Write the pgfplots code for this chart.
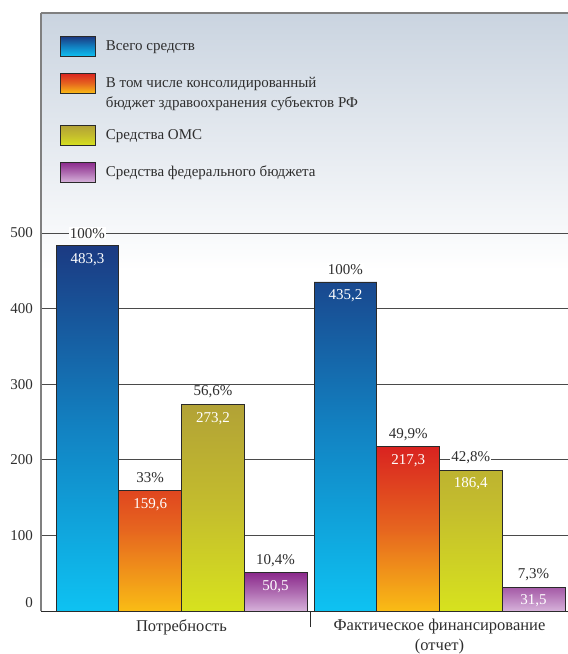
\documentclass[border=0pt]{standalone}
\usepackage{fontspec}
\setmainfont{Liberation Serif}
\usepackage{pgfplots}
\pgfplotsset{compat=1.18}
\usepackage{pgfplotstable}

\definecolor{txt}{HTML}{2E2E2E}
\definecolor{axdark}{HTML}{2B2B2B}
\definecolor{axgrey}{HTML}{808080}
\definecolor{gridc}{HTML}{4A4A4A}
\definecolor{bgtop}{HTML}{CAD4E0}
\definecolor{bardraw}{HTML}{2A2A2A}
\definecolor{blueTop}{HTML}{1B3A82}
\definecolor{blueMid}{HTML}{1282C2}
\definecolor{blueBot}{HTML}{0EC2F2}
\definecolor{redTop}{HTML}{D92320}
\definecolor{redMid}{HTML}{E6651F}
\definecolor{redBot}{HTML}{F9BC15}
\definecolor{oliveTop}{HTML}{B2A236}
\definecolor{oliveMid}{HTML}{C4BD2D}
\definecolor{oliveBot}{HTML}{D7E21E}
\definecolor{purpTop}{HTML}{8B2A8C}
\definecolor{purpMid}{HTML}{AE6AB0}
\definecolor{purpBot}{HTML}{D6B2DA}

% pale blue-grey at the top of the frame fading to white below the legend
\pgfdeclareverticalshading{bgfade}{100bp}{color(0bp)=(white); color(53.5bp)=(white); color(75bp)=(bgtop); color(100bp)=(bgtop)}

\tikzset{
  blueshade/.style={top color=blueTop, bottom color=blueBot, middle color=blueMid},
  redshade/.style={top color=redTop, bottom color=redBot, middle color=redMid},
  oliveshade/.style={top color=oliveTop, bottom color=oliveBot, middle color=oliveMid},
  purpshade/.style={top color=purpTop, bottom color=purpBot, middle color=purpMid},
}

\newcommand\lbl{\fontsize{15bp}{20bp}\selectfont}
\newcommand\catfont{\fontsize{16.5bp}{20bp}\selectfont}

% columns: group (0 = need, 1 = actual), value, share in percent
\pgfplotstableread{
x y pct
0 483.3 100
1 435.2 100
}\totaldata
\pgfplotstableread{
x y pct
0 159.6 33
1 217.3 49.9
}\regiondata
\pgfplotstableread{
x y pct
0 273.2 56.6
1 186.4 42.8
}\omsdata
\pgfplotstableread{
x y pct
0 50.5 10.4
1 31.5 7.3
}\feddata

\pgfplotsset{
  barlabels/.style={
    nodes near coords={\pgfmathprintnumber[fixed,fixed zerofill,precision=1,use comma]{\pgfplotspointmeta}},
    visualization depends on={\thisrow{pct} \as \pct},
    every node near coord/.append style={anchor=center, yshift=-14bp, text=white, font=\lbl, inner sep=0pt,
      label={[yshift=26.5bp, fill=white, text=txt, inner sep=1bp, font=\lbl]center:{\pgfmathprintnumber[use comma]{\pct}\%}}},
  },
}

\begin{document}
\begin{tikzpicture}
\begin{axis}[
  name=ax,
  scale only axis,
  width=527bp, height=598bp,
  xmin=-0.5446, xmax=1.4981,
  ymin=0, ymax=791,
  ybar, bar width=0.2432,
  axis x line*=bottom, axis y line*=left,
  x axis line style={draw=axdark, line width=1bp, -},
  y axis line style={draw=axgrey, line width=1.2bp, -},
  axis background/.style={shading=bgfade},
  ytick={100,200,300,400,500},
  extra y ticks={0},
  extra y tick style={grid=none, yticklabel style={yshift=8bp}},
  ymajorgrids,
  grid style={draw=gridc, line width=0.9bp},
  major tick length=0pt,
  xtick={0,1},
  xticklabels={Потребность, {Фактическое финансирование\\(отчет)}},
  extra x ticks={0.5},
  extra x tick labels={},
  extra x tick style={grid=none, major tick length=16bp, tick align=outside,
    tick style={draw=axdark, line width=0.8bp}},
  xticklabel style={align=center, font=\catfont, text=txt, inner sep=0pt, yshift=-8bp},
  yticklabel style={font=\lbl, text=txt, inner sep=0pt, xshift=-8bp},
  /pgf/number format/assume math mode=true,
  legend style={at={(rel axis cs:0,1)}, anchor=north west, xshift=19bp, yshift=-23bp,
    draw=none, fill=none, inner sep=0pt, row sep=16bp, column sep=10bp,
    nodes={align=left, text=txt, font=\lbl, inner sep=0pt}},
  legend cell align=left,
]
\addplot[bar shift=-0.3648, draw=bardraw, line width=0.7bp, blueshade, barlabels,
  legend image code/.code={\draw[draw=bardraw, line width=0.7bp, blueshade] (0bp,-10bp) rectangle (35bp,10bp);}]
  table[x=x, y=y] {\totaldata};
\addplot[bar shift=-0.1216, draw=bardraw, line width=0.7bp, redshade, barlabels,
  legend image code/.code={\draw[draw=bardraw, line width=0.7bp, redshade] (0bp,0bp) rectangle (35bp,20bp);}]
  table[x=x, y=y] {\regiondata};
\addplot[bar shift=0.1216, draw=bardraw, line width=0.7bp, oliveshade, barlabels,
  legend image code/.code={\draw[draw=bardraw, line width=0.7bp, oliveshade] (0bp,-10bp) rectangle (35bp,10bp);}]
  table[x=x, y=y] {\omsdata};
\addplot[bar shift=0.3648, draw=bardraw, line width=0.7bp, purpshade, barlabels,
  legend image code/.code={\draw[draw=bardraw, line width=0.7bp, purpshade] (0bp,-10bp) rectangle (35bp,10bp);}]
  table[x=x, y=y] {\feddata};
\legend{Всего средств, {В том числе консолидированный\\бюджет здравоохранения субъектов РФ}, Средства ОМС, Средства федерального бюджета}
\draw[draw=axgrey, line width=1.2bp] (rel axis cs:0,1) -- (rel axis cs:1,1);
\end{axis}
\pgfresetboundingbox
\path[use as bounding box] ([xshift=-41bp,yshift=-43bp]ax.south west) rectangle ([yshift=13bp]ax.north east);
\end{tikzpicture}
\end{document}
